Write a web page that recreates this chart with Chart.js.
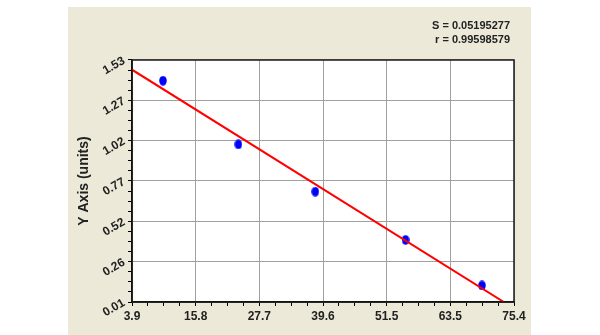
<!DOCTYPE html>
<html>
<head>
<meta charset="utf-8">
<script src="https://cdn.jsdelivr.net/npm/chart.js@4.4.1/dist/chart.umd.min.js"></script>
<style>
    body { margin: 0; background: #ffffff; }
    #panel { position: absolute; left: 68px; top: 7px; width: 463px; height: 328px; background: #ece9d8; }
    canvas { display: block; }
</style>
</head>
<body>
<div id="panel"><canvas id="chart" width="463" height="328"></canvas></div>
<script>
// measured points
const xValues = [9.7, 23.8, 38.2, 55.1, 69.4];
const yValues = [1.40, 1.00, 0.703, 0.40, 0.114];

// fitted line end points
const fitX = [3.9, 73.5];
const fitY = [1.469, 0.01];

// axis tick labels
const xTickLabels = ['3.9', '15.8', '27.7', '39.6', '51.5', '63.5', '75.4'];
const yTickLabels = ['0.01', '0.26', '0.52', '0.77', '1.02', '1.27', '1.53'];

const statLines = ['S = 0.05195277', 'r = 0.99598579'];

const FONT = "'Liberation Sans', Arial, sans-serif";
const MINOR = 4; // subdivisions between labelled ticks

// evenly spaced ticks, major ones every MINOR steps
function evenTicks(labels) {
    return function (scale) {
        const n = (labels.length - 1) * MINOR;
        const ticks = [];
        for (let i = 0; i <= n; i++) {
            ticks.push({ value: scale.min + (scale.max - scale.min) * i / n });
        }
        scale.ticks = ticks;
    };
}

// blue oval marker
const dot = document.createElement('canvas');
dot.width = 8;
dot.height = 10;
const dctx = dot.getContext('2d');
dctx.fillStyle = '#0000ff';
dctx.beginPath();
dctx.ellipse(4, 5, 3.8, 4.8, 0, 0, Math.PI * 2);
dctx.fill();

const boxAndStats = {
    id: 'boxAndStats',
    beforeDraw(chart) {
        const { ctx, chartArea: a } = chart;
        ctx.save();
        ctx.fillStyle = '#ffffff';
        ctx.fillRect(a.left, a.top, a.right - a.left, a.bottom - a.top);
        ctx.restore();
    },
    afterDraw(chart) {
        const { ctx, chartArea: a } = chart;
        ctx.save();
        ctx.strokeStyle = '#1a1a1a';
        ctx.lineWidth = 1.5;
        ctx.strokeRect(a.left, a.top, a.right - a.left, a.bottom - a.top);
        ctx.fillStyle = '#222';
        ctx.font = 'bold 11px ' + FONT;
        ctx.textAlign = 'right';
        ctx.textBaseline = 'middle';
        statLines.forEach((t, i) => ctx.fillText(t, a.right - 4, a.top - 34 + i * 14));
        ctx.restore();
    }
};

const gridColor = c => (c.index % MINOR === 0 ? '#a0a09c' : 'rgba(0,0,0,0)');

new Chart(document.getElementById('chart'), {
    type: 'scatter',
    data: {
        datasets: [
            {
                data: fitX.map((x, i) => ({ x: x, y: fitY[i] })),
                showLine: true,
                borderColor: '#ff0000',
                borderWidth: 2,
                pointRadius: 0
            },
            {
                data: xValues.map((x, i) => ({ x: x, y: yValues[i] })),
                pointStyle: dot,
                pointRadius: 5
            }
        ]
    },
    options: {
        responsive: false,
        animation: false,
        devicePixelRatio: 1,
        layout: { padding: { top: 53, right: 17, bottom: 0, left: 0 } },
        plugins: { legend: { display: false }, tooltip: { enabled: false } },
        scales: {
            x: {
                type: 'linear',
                min: 3.9,
                max: 75.4,
                afterBuildTicks: evenTicks(xTickLabels),
                afterFit: s => { s.height = 33; },
                border: { color: '#000', width: 1.5 },
                grid: { color: gridColor, tickColor: '#000', tickLength: 4 },
                ticks: {
                    autoSkip: false,
                    maxRotation: 0,
                    padding: 3,
                    color: '#222',
                    font: { family: FONT, size: 12, weight: 'bold' },
                    callback: (v, i) => (i % MINOR === 0 ? xTickLabels[i / MINOR] : '')
                }
            },
            y: {
                type: 'linear',
                min: 0.01,
                max: 1.53,
                afterBuildTicks: evenTicks(yTickLabels),
                afterFit: s => { s.width = 64; },
                border: { color: '#000', width: 1.5 },
                grid: { color: gridColor, tickColor: '#000', tickLength: 4 },
                title: {
                    display: true,
                    text: 'Y Axis (units)',
                    color: '#222',
                    padding: { top: 8, bottom: 0 },
                    font: { family: FONT, size: 14, weight: 'bold' }
                },
                ticks: {
                    autoSkip: false,
                    minRotation: 30,
                    maxRotation: 30,
                    padding: 4,
                    color: '#222',
                    font: { family: FONT, size: 12, weight: 'bold' },
                    callback: (v, i) => (i % MINOR === 0 ? yTickLabels[i / MINOR] : '')
                }
            }
        }
    },
    plugins: [boxAndStats]
});
</script>
</body>
</html>
